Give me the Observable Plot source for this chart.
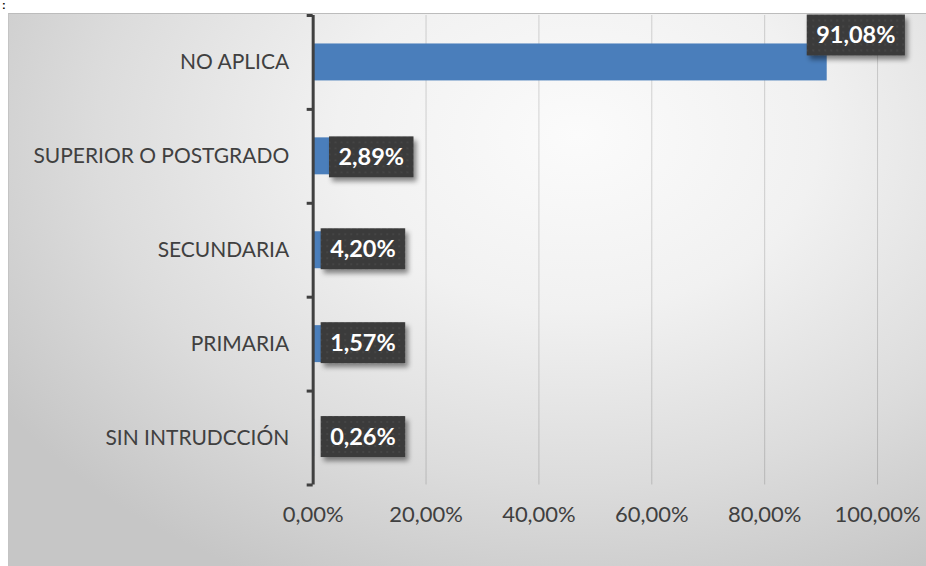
<!DOCTYPE html>
<html>
<head>
<meta charset="utf-8">
<script src="https://cdn.jsdelivr.net/npm/d3@7"></script>
<script src="https://cdn.jsdelivr.net/npm/@observablehq/plot@0.6"></script>
<style>
  html, body { margin: 0; padding: 0; background: #fff; width: 926px; height: 566px; overflow: hidden; }
  #colon { position: absolute; left: 2px; top: 0px; font: bold 11px/11px "Liberation Sans", sans-serif; color: #000; }
  #chart {
    position: absolute; left: 8px; top: 13px; width: 918px; height: 553px;
    background: radial-gradient(ellipse 75% 90% at 62% 22%, #fbfbfb 0%, #f1f1f1 35%, #dcdcdc 70%, #c6c6c6 100%);
    border-top: 1px solid #bcbcbc; border-left: 1px solid #c4c4c4; box-sizing: border-box;
  }
  #chart svg { display: block; }
</style>
</head>
<body>
<div id="colon">:</div>
<div id="chart"></div>
<script>
const categories = ["NO APLICA", "SUPERIOR O POSTGRADO", "SECUNDARIA", "PRIMARIA", "SIN INTRUDCCIÓN"];
const values = [91.08, 2.89, 4.20, 1.57, 0.26];
const xTicks = [0, 20, 40, 60, 80, 100];

const fmt = d => d.toFixed(2).replace(".", ",") + "%";
const data = categories.map((c, i) => ({cat: c, value: values[i]}));
// label placement groups (as in the original chart): clamped at top, at bar end, or at the baseline
const topData = data.filter(d => d.value > 90);
const endData = data.filter(d => d.cat === "SUPERIOR O POSTGRADO");
const baseData = data.filter(d => d.value <= 90 && d.cat !== "SUPERIOR O POSTGRADO");

const labelStyle = {
  y: "cat", text: d => fmt(d.value),
  textAnchor: "start", fill: "white", fontWeight: "bold", fontSize: 23.5,
  className: "vlabels"
};

const plot = Plot.plot({
  width: 918,
  height: 553,
  marginLeft: 304,
  marginRight: 49,
  marginTop: 1,
  marginBottom: 82,
  style: {background: "transparent", fontFamily: "Lato, 'Open Sans', sans-serif", fontSize: "21px", color: "#404040", overflow: "visible"},
  x: {domain: [0, 100]},
  y: {domain: categories, padding: 0},
  marks: [
    Plot.ruleX(xTicks.filter(t => t > 0), {stroke: "#000", strokeOpacity: 0.16, strokeWidth: 1}),
    Plot.barX(data, {x: "value", y: "cat", fill: "#4a7ebb", insetTop: 28.5, insetBottom: 28.5}),
    Plot.ruleX([0], {stroke: "#404040", strokeWidth: 3}),
    Plot.ruleY(categories, {y: d => d, x1: 0, x2: 0, insetLeft: -6, dy: -47, stroke: "#404040", strokeWidth: 3}),
    Plot.ruleY(categories.slice(-1), {y: d => d, x1: 0, x2: 0, insetLeft: -6, dy: 47, stroke: "#404040", strokeWidth: 3}),
    Plot.axisX({ticks: xTicks, tickSize: 0, tickPadding: 21, tickFormat: fmt, fontSize: 22, fill: "#404040", label: null}),
    Plot.axisY({tickSize: 0, tickPadding: 24, fontSize: 21, fill: "#404040", label: null}),
    Plot.text(topData, {...labelStyle, x: "value", dx: -11, dy: -27}),
    Plot.text(endData, {...labelStyle, x: "value", dx: 9, dy: 1}),
    Plot.text(baseData, {...labelStyle, x: () => 0, dx: 17, dy: -1})
  ]
});

document.getElementById("chart").appendChild(plot);

// drop shadow filter + dark label boxes drawn behind the Plot text labels
const svg = d3.select(plot);
const defs = svg.insert("defs", ":first-child");
const f = defs.append("filter").attr("id", "lblShadow").attr("x", "-20%").attr("y", "-30%").attr("width", "150%").attr("height", "170%");
f.append("feDropShadow").attr("dx", 3).attr("dy", 4).attr("stdDeviation", 2.5).attr("flood-color", "#000").attr("flood-opacity", 0.45);
const pat = defs.append("pattern").attr("id", "lblDots").attr("patternUnits", "userSpaceOnUse").attr("width", 6).attr("height", 6);
pat.append("rect").attr("width", 6).attr("height", 6).attr("fill", "#3b3b3b");
pat.append("circle").attr("cx", 3).attr("cy", 3).attr("r", 1).attr("fill", "#474747");

svg.selectAll("g.vlabels text").each(function () {
  const bb = this.getBBox();
  const boxH = 41;
  const padX = 9.5;
  const cy = bb.y + bb.height / 2 + 1;
  d3.select(this.parentNode).insert("rect", () => this)
    .attr("x", bb.x - padX)
    .attr("y", cy - boxH / 2)
    .attr("width", bb.width + 2 * padX)
    .attr("height", boxH)
    .attr("fill", "url(#lblDots)")
    .attr("filter", "url(#lblShadow)")
    .attr("transform", this.getAttribute("transform"));
});
</script>
</body>
</html>
